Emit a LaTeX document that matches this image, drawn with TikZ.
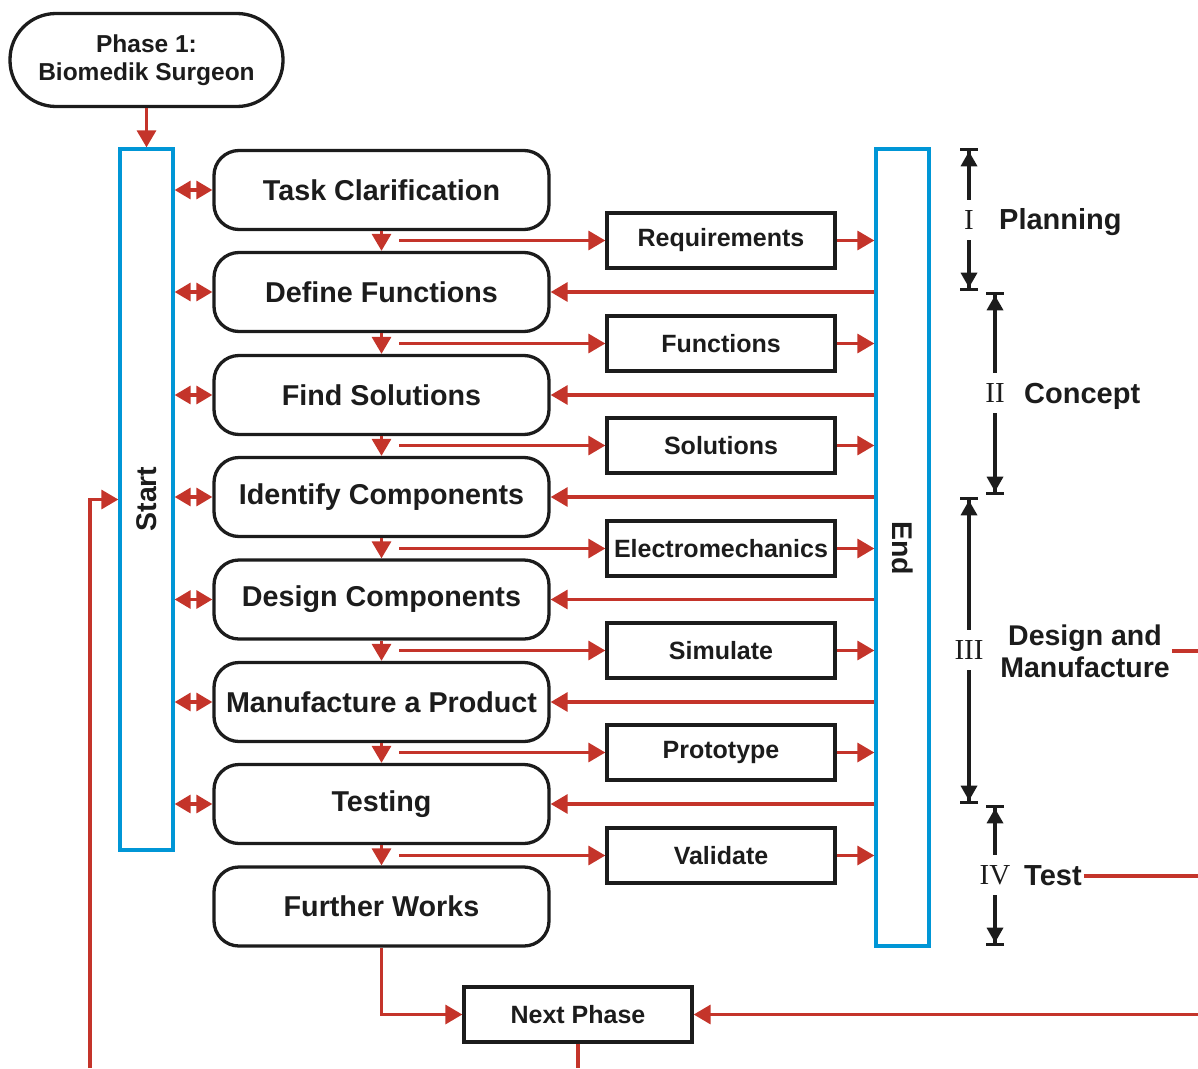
\documentclass[tikz,border=0pt]{standalone}
\usepackage{fontspec}
\setmainfont{Liberation Sans}
\newfontfamily\romanfont{Liberation Serif}
\usetikzlibrary{arrows.meta,calc}
\definecolor{flowred}{RGB}{196,52,42}
\definecolor{barblue}{RGB}{0,150,214}
\definecolor{ink}{RGB}{28,28,28}
\tikzset{
  stepnode/.style={draw=ink, line width=3.3pt, rounded corners=25pt,
    minimum width=335pt, minimum height=79pt, inner sep=0pt,
    font=\fontsize{28.7}{32}\selectfont\bfseries, text=ink},
  outbox/.style={draw=ink, line width=3.3pt, minimum width=228pt,
    minimum height=55pt, inner sep=0pt,
    font=\fontsize{25}{28}\selectfont\bfseries, text=ink},
  bluebar/.style={draw=barblue, line width=3.3pt, inner sep=0pt},
  bartext/.style={font=\fontsize{28.5}{32}\selectfont\bfseries, text=ink},
  flow/.style={draw=flowred, line width=3.3pt,
    -{Triangle[length=17pt,width=19pt]}},
  twoway/.style={draw=flowred, line width=3.3pt,
    {Triangle[length=16pt,width=18pt]}-{Triangle[length=16pt,width=18pt]}},
  plain/.style={draw=flowred, line width=3.3pt},
  span/.style={draw=ink, line width=3.3pt,
    -{Triangle[length=15pt,width=16pt,sep=0pt]Bar[width=18pt,sep=0pt]}},
  numeral/.style={font=\romanfont\fontsize{29}{32}\selectfont, text=ink,
    minimum height=40pt, inner sep=1pt},
  phaselabel/.style={font=\fontsize{29}{32}\selectfont\bfseries, text=ink,
    inner sep=2pt, align=center}
}
\begin{document}
\begin{tikzpicture}[x=1pt,y=-1pt]
\useasboundingbox (0,0) rectangle (1198,1068);

% starting phase
\node[draw=ink, line width=3.3pt, rounded corners=46pt, minimum width=273pt,
  minimum height=93pt, align=center, text=ink,
  font=\fontsize{24.5}{28}\selectfont\bfseries] (phase) at (146.5,60)
  {Phase 1:\\Biomedik Surgeon};

% start and end bars
\node[bluebar, minimum width=53pt, minimum height=701pt] (start) at (146.5,499.5) {};
\node[bartext, rotate=90] (starttxt) at (147,499) {Start};
\node[bluebar, minimum width=53pt, minimum height=797pt] (endbar) at (902.5,547.5) {};
\node[bartext, rotate=-90] (endtxt) at (903,548) {End};

% process steps
\node[stepnode] (tc) at (381.5,190) {Task Clarification};
\node[stepnode] (df) at (381.5,292) {Define Functions};
\node[stepnode] (fs) at (381.5,395) {Find Solutions};
\node[stepnode] (ic) at (381.5,497) {Identify Components};
\node[stepnode] (dc) at (381.5,599.5) {Design Components};
\node[stepnode] (mp) at (381.5,702) {Manufacture a Product};
\node[stepnode] (te) at (381.5,804) {Testing};
\node[stepnode] (fw) at (381.5,906.5) {Further Works};

% outputs of each step
\node[outbox] (o1) at (721,240.5) {Requirements};
\node[outbox] (o2) at (721,343.5) {Functions};
\node[outbox] (o3) at (721,445.5) {Solutions};
\node[outbox] (o4) at (721,548.5) {Electromechanics};
\node[outbox] (o5) at (721,650.5) {Simulate};
\node[outbox] (o6) at (721,752.5) {Prototype};
\node[outbox] (o7) at (721,855.5) {Validate};

\node[outbox] (np) at (578,1014.5) {Next Phase};

% phase to start
\draw[flow] (phase.south) -- (start.north);

% start <-> steps
\foreach \s in {tc,df,fs,ic,dc,mp,te}
  \draw[twoway] (start.east |- \s.west) -- (\s.west);

% step to step
\draw[flow] (tc.south) -- (df.north);
\draw[flow] (df.south) -- (fs.north);
\draw[flow] (fs.south) -- (ic.north);
\draw[flow] (ic.south) -- (dc.north);
\draw[flow] (dc.south) -- (mp.north);
\draw[flow] (mp.south) -- (te.north);
\draw[flow] (te.south) -- (fw.north);

% branches to outputs and on to the end bar
\foreach \o in {o1,o2,o3,o4,o5,o6,o7}{
  \coordinate (b\o) at (399,0 |- \o.west);
  \draw[flow] (b\o) -- (\o.west);
  \draw[flow] (\o.east) -- (endbar.west |- \o.east);
}

% feedback from the end bar
\foreach \s in {df,fs,ic,dc,mp,te}
  \draw[flow] (endbar.west |- \s.east) -- (\s.east);

% further works to next phase
\draw[flow] (fw.south) |- (np.west);
\coordinate (npout) at (578,1068);
\draw[plain] (np.south) -- (npout);
\coordinate (rin) at (1198,1014.5);
\draw[flow] (rin) -- (np.east);

% loop back into start
\coordinate (loopin) at (90,1068);
\draw[flow] (loopin) |- (start.west);

% phase spans
\node[numeral] (r1) at (969,220) {I};
\coordinate (r1t) at (969,148);
\coordinate (r1b) at (969,291);
\draw[span] (r1.north) -- (r1t);
\draw[span] (r1.south) -- (r1b);

\node[numeral] (r2) at (995,393) {II};
\coordinate (r2t) at (995,292);
\coordinate (r2b) at (995,495);
\draw[span] (r2.north) -- (r2t);
\draw[span] (r2.south) -- (r2b);

\node[numeral] (r3) at (969,650) {III};
\coordinate (r3t) at (969,497);
\coordinate (r3b) at (969,804);
\draw[span] (r3.north) -- (r3t);
\draw[span] (r3.south) -- (r3b);

\node[numeral] (r4) at (995,875) {IV};
\coordinate (r4t) at (995,805);
\coordinate (r4b) at (995,946);
\draw[span] (r4.north) -- (r4t);
\draw[span] (r4.south) -- (r4b);

% phase names
\node[phaselabel, anchor=west] (plan) at (997,222) {Planning};
\node[phaselabel, anchor=west] (conc) at (1022,396) {Concept};
\node[phaselabel, font=\fontsize{28.5}{32}\selectfont\bfseries] (desman) at (1085,651)
  {Design and\\Manufacture};
\node[phaselabel, anchor=west] (test) at (1022,876) {Test};

\coordinate (dmout) at (1198,651);
\draw[plain] (desman.east |- dmout) -- (dmout);
\coordinate (testout) at (1198,876);
\draw[plain] (test.east) -- (testout);
\end{tikzpicture}
\end{document}
